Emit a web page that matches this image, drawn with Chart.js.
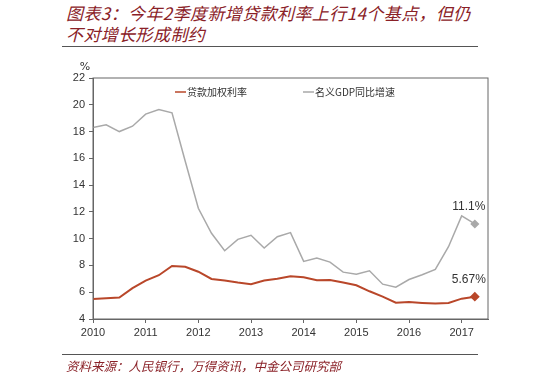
<!DOCTYPE html>
<html>
<head>
<meta charset="utf-8">
<script src="https://cdn.jsdelivr.net/npm/chart.js@4"></script>
<style>
    body { margin: 0; width: 550px; height: 387px; background: #fff; position: relative; overflow: hidden; }
    .title { position: absolute; left: 66px; top: 2px; width: 420px; font: italic 17px "Noto Sans CJK SC"; line-height: 21px; color: #8a2127; letter-spacing: 0.4px; }
    .rule { position: absolute; left: 62px; width: 416px; height: 0; border-top: 1.5px solid #555; }
    .source { position: absolute; left: 66px; top: 356px; font: italic 12.5px "Noto Sans CJK SC"; color: #8a2127; }
    #chart { position: absolute; left: 0; top: 0; }
</style>
</head>
<body>
<div class="title">图表3：今年2季度新增贷款利率上行14个基点，但仍<br>不对增长形成制约</div>
<div class="rule" style="top:46px"></div>
<canvas id="chart" width="550" height="387"></canvas>
<div class="rule" style="top:354px"></div>
<div class="source">资料来源：人民银行，万得资讯，中金公司研究部</div>

<script>
/*--------------------DATA--------------------*/
let quarters = [
    2010, 2010.25, 2010.5, 2010.75, 2011, 2011.25, 2011.5, 2011.75,
    2012, 2012.25, 2012.5, 2012.75, 2013, 2013.25, 2013.5, 2013.75,
    2014, 2014.25, 2014.5, 2014.75, 2015, 2015.25, 2015.5, 2015.75,
    2016, 2016.25, 2016.5, 2016.75, 2017, 2017.25
];
let loanRate = [
    5.5, 5.55, 5.6, 6.3, 6.87, 7.27, 7.96, 7.9,
    7.53, 6.99, 6.87, 6.72, 6.6, 6.87, 7.0, 7.2,
    7.12, 6.9, 6.92, 6.72, 6.52, 6.07, 5.67, 5.22,
    5.27, 5.2, 5.15, 5.2, 5.52, 5.67
];
let gdpGrowth = [
    18.3, 18.5, 18.0, 18.4, 19.3, 19.65, 19.4, 15.8,
    12.27, 10.4, 9.1, 9.95, 10.25, 9.3, 10.15, 10.45,
    8.3, 8.55, 8.25, 7.5, 7.35, 7.6, 6.6, 6.37,
    6.95, 7.3, 7.7, 9.4, 11.7, 11.1
];
let seriesNames = ['贷款加权利率', '名义GDP同比增速'];
let endLabels = ['5.67%', '11.1%'];
let yearTicks = [2010, 2011, 2012, 2013, 2014, 2015, 2016, 2017];

/*--------------------CHART--------------------*/
function toPoints(values) {
    return values.map((v, i) => ({ x: quarters[i], y: v }));
}

function lastOnly(size) {
    return quarters.map((q, i) => i == quarters.length - 1 ? size : 0);
}

let extras = {
    id: 'extras',
    afterDatasetsDraw(chart) {
        let ctx = chart.ctx;
        let area = chart.chartArea;
        ctx.save();
        ctx.strokeStyle = '#666';
        ctx.lineWidth = 1;
        ctx.strokeRect(area.left, area.top, area.right - area.left, area.bottom - area.top);

        ctx.fillStyle = '#333';
        ctx.font = '11px "DejaVu Sans"';
        ctx.textAlign = 'center';
        ctx.fillText('%', area.left - 8, area.top - 8);

        // end-point labels
        ctx.font = '12px "Liberation Sans"';
        chart.data.datasets.forEach((ds, i) => {
            let pts = chart.getDatasetMeta(i).data;
            let p = pts[pts.length - 1];
            ctx.fillText(endLabels[i], p.x - 6, p.y - 14);
        });

        // legend, one row inside the plot
        let legendX = [area.left + 82, area.left + 210];
        let legendY = area.top + 14;
        ctx.textAlign = 'left';
        ctx.textBaseline = 'middle';
        ctx.font = '10px "Noto Sans CJK SC"';
        chart.data.datasets.forEach((ds, i) => {
            ctx.strokeStyle = ds.borderColor;
            ctx.lineWidth = 1.5;
            ctx.beginPath();
            ctx.moveTo(legendX[i], legendY);
            ctx.lineTo(legendX[i] + 11, legendY);
            ctx.stroke();
            ctx.fillStyle = '#333';
            ctx.fillText(ds.label, legendX[i] + 12, legendY);
        });
        ctx.restore();
    }
};

let canvas = document.getElementById('chart');
let chart = new Chart(canvas, {
    type: 'line',
    data: {
        datasets: [
            {
                label: seriesNames[0],
                data: toPoints(loanRate),
                borderColor: '#b9472a',
                backgroundColor: '#b9472a',
                borderWidth: 2,
                pointRadius: lastOnly(3.5),
                pointStyle: 'rectRot',
                tension: 0
            },
            {
                label: seriesNames[1],
                data: toPoints(gdpGrowth),
                borderColor: '#a9a9a9',
                backgroundColor: '#a9a9a9',
                borderWidth: 1.5,
                pointRadius: lastOnly(3.5),
                pointStyle: 'rectRot',
                tension: 0
            }
        ]
    },
    options: {
        responsive: false,
        animation: false,
        layout: { padding: { left: 63, top: 78, right: 62, bottom: 46 } },
        plugins: {
            legend: { display: false },
            tooltip: { enabled: false }
        },
        scales: {
            x: {
                type: 'linear',
                min: 2010,
                max: 2017.5,
                afterFit: (s) => { s.height = 22; },
                afterBuildTicks: (s) => { s.ticks = yearTicks.map(v => ({ value: v })); },
                grid: { drawOnChartArea: false, tickLength: 4, tickColor: '#666' },
                border: { color: '#666' },
                ticks: {
                    color: '#333',
                    padding: 3,
                    maxRotation: 0,
                    font: { family: '"Liberation Sans"', size: 11 },
                    callback: (v) => v
                }
            },
            y: {
                min: 4,
                max: 22,
                afterFit: (s) => { s.width = 30; },
                grid: { drawOnChartArea: false, tickLength: 4, tickColor: '#666' },
                border: { color: '#666' },
                ticks: {
                    stepSize: 2,
                    color: '#333',
                    padding: 4,
                    font: { family: '"Liberation Sans"', size: 11 }
                }
            }
        }
    },
    plugins: [extras]
});
</script>
</body>
</html>
